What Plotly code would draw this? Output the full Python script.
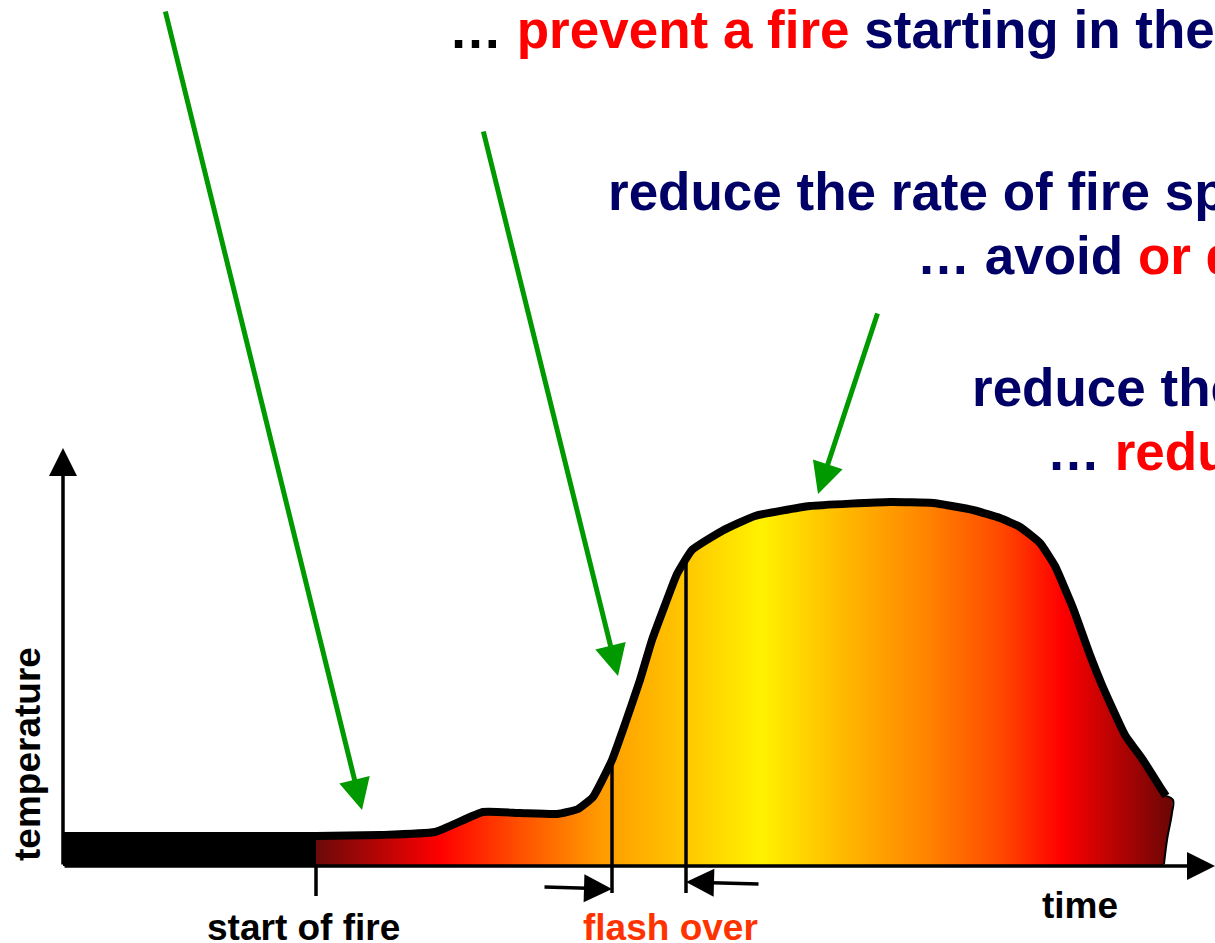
import plotly.graph_objects as go

# ---- data (time / temperature in arbitrary units) ----
time = [0, 137, 253, 317, 372, 420, 457, 494, 515, 530, 549, 562, 577, 589,
        602, 614, 629, 659, 692, 747, 827, 870, 910, 937, 957, 977, 992,
        1010, 1027, 1039, 1062, 1080, 1099, 1103]
temperature = [30, 30, 30, 31, 34, 54, 53, 52, 57, 69, 106, 142, 186, 226,
               261, 292, 316, 335, 350, 360, 364, 363, 356, 348, 339, 323, 300,
               258, 211, 181, 131, 106, 76, 70]
# thin closing edge of the burning region (decay to ambient)
tail_time = [1103, 1110, 1109, 1104, 1101]
tail_temp = [70, 66, 53, 26, 2]

t_start_fire = 253
t_flash_begin = 549
t_flash_end = 623
t_axis_end = 1152
temp_axis_end = 418

gradient_stops = [0.0, 0.145, 0.238, 0.331, 0.425, 0.52, 0.611, 0.716, 0.798, 0.87, 1.0]
gradient_colors = ["#6b0a0a", "#ff0000", "#ff5000", "#ff9a00", "#ffc400", "#fff200",
                   "#ffbb00", "#ff8200", "#ff4a00", "#ff0000", "#6a0606"]

NAVY = "#000066"
RED = "#ff0000"
GREEN = "#009900"
FONT = "Liberation Sans, Arial, sans-serif"
W, H = 1215, 943


def interp(t):
    for i in range(len(time) - 1):
        if time[i] <= t <= time[i + 1]:
            f = (t - time[i]) / (time[i + 1] - time[i])
            return temperature[i] + f * (temperature[i + 1] - temperature[i])
    return temperature[-1]


fig = go.Figure()

# black pre-fire band
i0 = time.index(t_start_fire)
fig.add_trace(go.Scatter(
    x=time[:i0 + 1] + [t_start_fire, 0],
    y=temperature[:i0 + 1] + [0, 0],
    fill="toself", fillcolor="black", line=dict(width=0), mode="lines",
    hoverinfo="skip"))

# burning region with horizontal gradient
fx = time[i0:] + tail_time[1:] + [tail_time[-1], t_start_fire]
fy = temperature[i0:] + tail_temp[1:] + [0, 0]
fig.add_trace(go.Scatter(
    x=fx, y=fy, fill="toself", mode="lines", line=dict(width=0),
    fillgradient=dict(type="horizontal",
                      colorscale=[[s, c] for s, c in zip(gradient_stops, gradient_colors)],
                      start=t_start_fire, stop=max(tail_time)),
    hoverinfo="skip"))

# outline
fig.add_trace(go.Scatter(x=time, y=temperature, mode="lines",
                         line=dict(color="black", width=8, shape="spline", smoothing=0.4),
                         hoverinfo="skip"))
fig.add_trace(go.Scatter(x=tail_time, y=tail_temp, mode="lines",
                         line=dict(color="black", width=2, shape="spline"),
                         hoverinfo="skip"))

# event markers
shapes = [
    dict(type="line", xref="x", yref="y", x0=t_start_fire, x1=t_start_fire, y0=0, y1=-30,
         line=dict(color="black", width=3.5)),
    dict(type="line", xref="x", yref="y", x0=t_flash_begin, x1=t_flash_begin,
         y0=interp(t_flash_begin), y1=-27, line=dict(color="black", width=3.5)),
    dict(type="line", xref="x", yref="y", x0=t_flash_end, x1=t_flash_end,
         y0=interp(t_flash_end), y1=-27, line=dict(color="black", width=3.5)),
]

ann = []


def arrow(x, y, ax, ay, color, width, size):
    ann.append(dict(x=x, y=y, ax=ax, ay=ay, xref="x", yref="y", axref="x", ayref="y",
                    text="", showarrow=True, arrowhead=2, arrowsize=size,
                    arrowwidth=width, arrowcolor=color, standoff=0, startstandoff=0))


# axes
arrow(0, temp_axis_end, 0, 0, "black", 3.5, 1.6)
arrow(t_axis_end, 0, 0, 0, "black", 3.5, 1.6)
# flash-over brackets
arrow(t_flash_begin, -23, t_flash_begin - 69, -21, "black", 3.5, 1.6)
arrow(t_flash_end, -16, t_flash_end + 74, -18, "black", 3.5, 1.6)
# green pointers
arrow(299, 56, 102, 856, GREEN, 5, 1.25)
arrow(555, 190, 420, 736, GREEN, 5, 1.25)
arrow(755, 372, 815, 554, GREEN, 5, 1.25)


def label(px, py, text, size, color="black", xanchor="left", angle=0):
    ann.append(dict(x=px / W, y=1 - py / H, xref="paper", yref="paper", text=text,
                    showarrow=False, xanchor=xanchor, yanchor="middle", textangle=angle,
                    font=dict(family=FONT, size=size, color=color)))


def span(t, c):
    return f"<span style='color:{c}'>{t}</span>"


BIG = 53
label(447, 29, "<b>… " + span("prevent a fire", RED) + " " + span("starting in the", NAVY) + "</b>", BIG)
label(606, 192, "<b>" + span("reduce the rate of fire spread", NAVY) + "</b>", BIG)
label(915, 255, "<b>" + span("… avoid", NAVY) + " " + span("or delay flash over", RED) + "</b>", BIG)
label(970, 388, "<b>" + span("reduce the temperature", NAVY) + "</b>", BIG)
label(1045, 452, "<b>" + span("…", NAVY) + " " + span("reduce the damage", RED) + "</b>", BIG)

label(303, 927, "<b>start of fire</b>", 37, xanchor="center")
label(670, 927, "<b>flash over</b>", 37, color="#ff3300", xanchor="center")
label(1080, 905, "<b>time</b>", 37, xanchor="center")
label(27, 754, "<b>temperature</b>", 37, xanchor="center", angle=-90)

fig.update_layout(
    width=W, height=H, margin=dict(l=0, r=0, t=0, b=0),
    paper_bgcolor="white", plot_bgcolor="white", showlegend=False,
    xaxis=dict(visible=False, range=[-63, W - 63], fixedrange=True),
    yaxis=dict(visible=False, range=[-(H - 866), 866], fixedrange=True),
    shapes=shapes, annotations=ann,
)

fig.write_html("out.html", config={"displayModeBar": False},
               post_script="document.body.style.margin='0';document.body.style.overflow='hidden';")
